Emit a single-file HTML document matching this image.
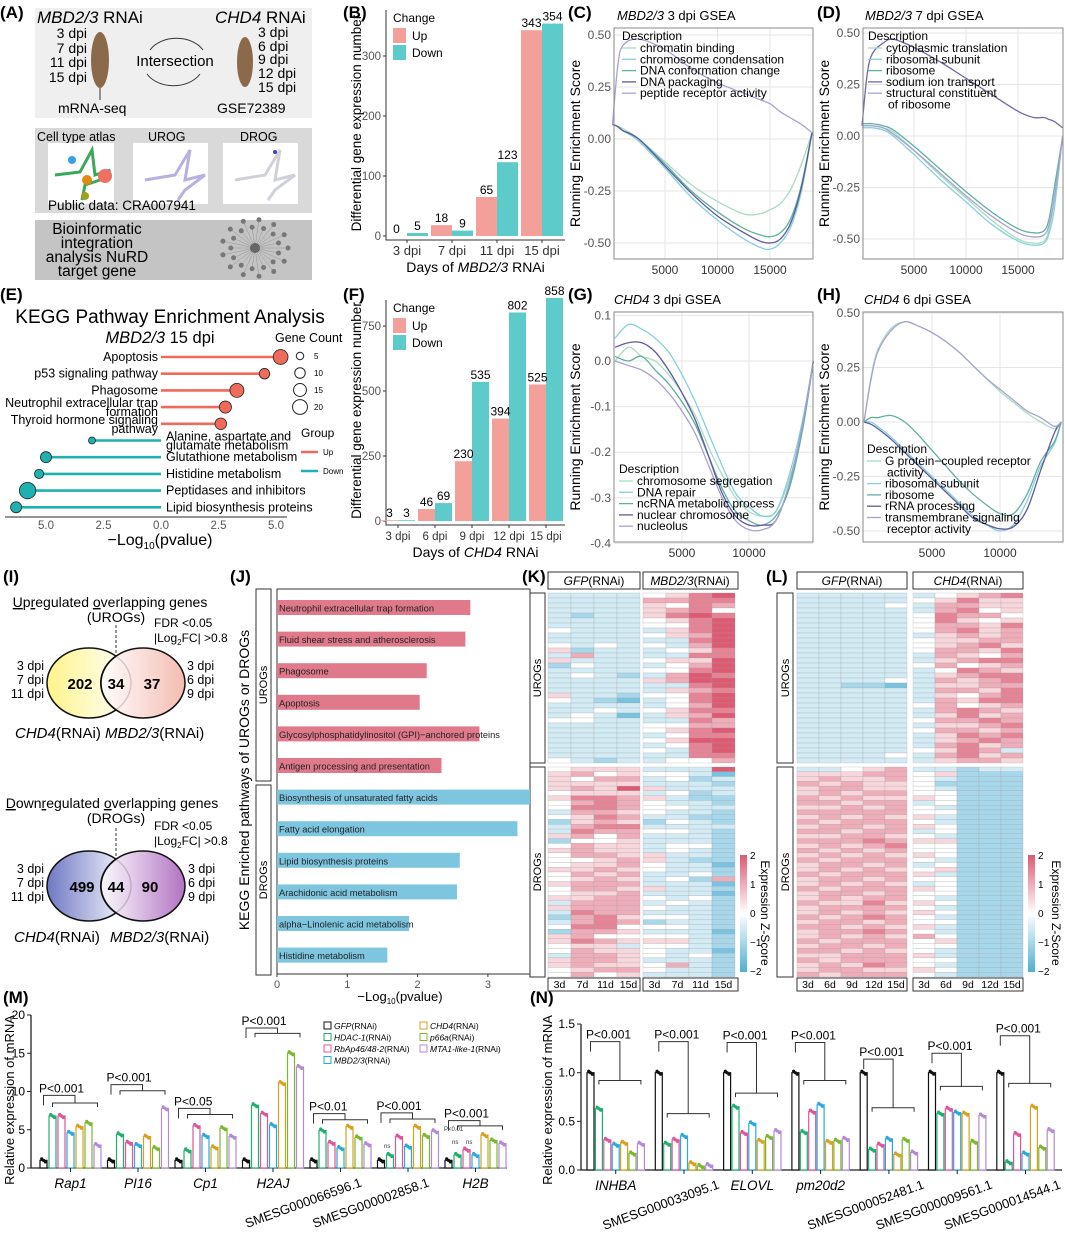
<!DOCTYPE html>
<html><head><meta charset="utf-8"><style>
html,body{margin:0;padding:0;background:#fff}
svg{display:block;font-family:"Liberation Sans",Arial,sans-serif}
</style></head><body>
<svg id="fig" width="1065" height="1238" viewBox="0 0 1065 1238" xmlns="http://www.w3.org/2000/svg">
<defs>
<linearGradient id="zgrad" x1="0" y1="0" x2="0" y2="1"><stop offset="0" stop-color="#DD5A72"/><stop offset="0.5" stop-color="#ffffff"/><stop offset="1" stop-color="#4DAFD6"/></linearGradient>
<linearGradient id="vY" x1="0" y1="0" x2="1" y2="0"><stop offset="0" stop-color="#fff38a"/><stop offset="1" stop-color="#ffffff"/></linearGradient>
<linearGradient id="vR" x1="0" y1="0" x2="1" y2="0"><stop offset="0" stop-color="#ffffff"/><stop offset="1" stop-color="#f2b0a4"/></linearGradient>
<linearGradient id="vB" x1="0" y1="0" x2="1" y2="0"><stop offset="0" stop-color="#6f78c4"/><stop offset="1" stop-color="#ffffff"/></linearGradient>
<linearGradient id="vP" x1="0" y1="0" x2="1" y2="0"><stop offset="0" stop-color="#ffffff"/><stop offset="1" stop-color="#a45ab8"/></linearGradient>
</defs>

<!-- Panel A -->
<g>
<text x="0" y="18" font-size="17" font-weight="bold">(A)</text>
<rect x="35" y="8" width="277" height="110" fill="#efefef"/>
<text x="37" y="23" font-size="17"><tspan font-style="italic">MBD2/3</tspan> RNAi</text>
<text x="215" y="23" font-size="17"><tspan font-style="italic">CHD4</tspan> RNAi</text>
<g font-size="14" text-anchor="end">
<text x="87" y="38">3 dpi</text><text x="87" y="53">7 dpi</text><text x="87" y="67">11 dpi</text><text x="87" y="82">15 dpi</text></g>
<ellipse cx="100" cy="60" rx="9" ry="28" fill="#8a6a4a"/>
<line x1="100" y1="88" x2="100" y2="100" stroke="#333"/>
<text x="58" y="113" font-size="14">mRNA-seq</text>
<text x="175" y="66" font-size="15" text-anchor="middle">Intersection</text>
<path d="M150,50 A30,22 0 0 1 203,50" fill="none" stroke="#333"/>
<path d="M200,74 A30,22 0 0 1 147,74" fill="none" stroke="#333"/>
<ellipse cx="245" cy="62" rx="8" ry="25" fill="#8a6a4a"/>
<g font-size="14">
<text x="258" y="37">3 dpi</text><text x="258" y="51">6 dpi</text><text x="258" y="64">9 dpi</text><text x="258" y="78">12 dpi</text><text x="258" y="92">15 dpi</text></g>
<text x="217" y="113" font-size="14">GSE72389</text>
<rect x="35" y="128" width="277" height="85" fill="#d9d9d9"/>
<text x="37" y="141" font-size="12.5">Cell type atlas</text>
<text x="148" y="141" font-size="12.5">UROG</text>
<text x="240" y="141" font-size="12.5">DROG</text>
<rect x="48" y="143" width="66" height="61" fill="#fff"/>
<rect x="133" y="143" width="75" height="61" fill="#fff"/>
<rect x="223" y="143" width="75" height="61" fill="#fff"/>
<g>
<path d="M55,175 L80,172 L92,150 L95,175 L110,170 L100,180 L85,185 L82,200" stroke="#3aa85a" stroke-width="3" fill="none"/>
<circle cx="87" cy="180" r="5" fill="#e08a10"/><circle cx="105" cy="176" r="7" fill="#f07060"/><circle cx="72" cy="160" r="4" fill="#3aa0e0"/><circle cx="85" cy="196" r="4" fill="#a0a020"/>
<path d="M145,180 L175,175 L190,150 L185,180 L205,175 L185,190 L178,200" stroke="#b8b0e0" stroke-width="3" fill="none"/>
<path d="M235,180 L265,175 L280,150 L275,180 L295,175 L275,190 L268,200" stroke="#d0d0d8" stroke-width="3" fill="none"/>
<circle cx="275" cy="152" r="2" fill="#4040c0"/></g>
<text x="48" y="210" font-size="13.5">Public data: CRA007941</text>
<rect x="35" y="220" width="277" height="60" fill="#c4c4c4"/>
<g font-size="15.5" text-anchor="middle">
<text x="97" y="234">Bioinformatic</text><text x="97" y="248">integration</text><text x="97" y="262">analysis NuRD</text><text x="97" y="276">target gene</text></g>
<g id="netg"></g>
</g>

<text x="343" y="18" font-size="17" font-weight="bold">(B)</text>
<text x="568" y="18" font-size="17" font-weight="bold">(C)</text>
<text x="817" y="18" font-size="17" font-weight="bold">(D)</text>
<text x="0" y="300" font-size="17" font-weight="bold">(E)</text>
<text x="343" y="300" font-size="17" font-weight="bold">(F)</text>
<text x="568" y="300" font-size="17" font-weight="bold">(G)</text>
<text x="817" y="300" font-size="17" font-weight="bold">(H)</text>
<text x="3" y="582" font-size="17" font-weight="bold">(I)</text>
<text x="230" y="582" font-size="17" font-weight="bold">(J)</text>
<text x="522" y="582" font-size="17" font-weight="bold">(K)</text>
<text x="766" y="582" font-size="17" font-weight="bold">(L)</text>
<text x="3" y="1003" font-size="17" font-weight="bold">(M)</text>
<text x="530" y="1003" font-size="17" font-weight="bold">(N)</text>

<!-- Panel titles for GSEA -->
<text x="617" y="20" font-size="13"><tspan font-style="italic">MBD2/3</tspan> 3 dpi GSEA</text>
<text x="865" y="20" font-size="13"><tspan font-style="italic">MBD2/3</tspan> 7 dpi GSEA</text>
<text x="614" y="304" font-size="13"><tspan font-style="italic">CHD4</tspan> 3 dpi GSEA</text>
<text x="864" y="304" font-size="13"><tspan font-style="italic">CHD4</tspan> 6 dpi GSEA</text>

<!-- Panel E titles -->
<text x="170" y="323" font-size="19" text-anchor="middle">KEGG Pathway Enrichment Analysis</text>
<text x="160" y="343" font-size="16.5" text-anchor="middle"><tspan font-style="italic">MBD2/3</tspan> 15 dpi</text>

<!-- Panel I Venn -->
<g>
<text x="110" y="607" font-size="14" text-anchor="middle"><tspan text-decoration="underline">U</tspan>p<tspan text-decoration="underline">r</tspan>egulated <tspan text-decoration="underline">o</tspan>verlapping <tspan text-decoration="underline">g</tspan>enes</text>
<text x="116" y="622" font-size="14" text-anchor="middle">(UROGs)</text>
<text x="154" y="627" font-size="12">FDR &lt;0.05</text>
<text x="154" y="642" font-size="12">|Log<tspan font-size="8" dy="3">2</tspan><tspan dy="-3">FC| &gt;0.8</tspan></text>
<line x1="116" y1="625" x2="116" y2="662" stroke="#333" stroke-dasharray="3,2"/>
<ellipse cx="89" cy="683" rx="42" ry="35" fill="url(#vY)" stroke="#111" stroke-width="1.5"/>
<ellipse cx="143" cy="683" rx="42" ry="35" fill="url(#vR)" fill-opacity="0.85" stroke="#111" stroke-width="1.5"/>
<path d="M116,656 A42,35 0 0 0 116,710" fill="none" stroke="#111" stroke-width="1.5"/>
<g font-size="15" font-weight="bold" text-anchor="middle"><text x="80" y="689">202</text><text x="116" y="689">34</text><text x="152" y="689">37</text></g>
<g font-size="12.5" text-anchor="end"><text x="44" y="670">3 dpi</text><text x="44" y="684">7 dpi</text><text x="44" y="698">11 dpi</text></g>
<g font-size="12.5"><text x="187" y="670">3 dpi</text><text x="187" y="684">6 dpi</text><text x="187" y="698">9 dpi</text></g>
<text x="15" y="738" font-size="15"><tspan font-style="italic">CHD4</tspan>(RNAi) <tspan font-style="italic">MBD2/3</tspan>(RNAi)</text>
<text x="112" y="808" font-size="14" text-anchor="middle"><tspan text-decoration="underline">D</tspan>own<tspan text-decoration="underline">r</tspan>egulated <tspan text-decoration="underline">o</tspan>verlapping <tspan text-decoration="underline">g</tspan>enes</text>
<text x="116" y="823" font-size="14" text-anchor="middle">(DROGs)</text>
<text x="154" y="830" font-size="12">FDR &lt;0.05</text>
<text x="154" y="845" font-size="12">|Log<tspan font-size="8" dy="3">2</tspan><tspan dy="-3">FC| &gt;0.8</tspan></text>
<line x1="116" y1="828" x2="116" y2="866" stroke="#333" stroke-dasharray="3,2"/>
<ellipse cx="89" cy="886" rx="42" ry="35" fill="url(#vB)" stroke="#111" stroke-width="1.5"/>
<ellipse cx="143" cy="886" rx="42" ry="35" fill="url(#vP)" fill-opacity="0.85" stroke="#111" stroke-width="1.5"/>
<path d="M116,859 A42,35 0 0 0 116,913" fill="none" stroke="#111" stroke-width="1.5"/>
<g font-size="15" font-weight="bold" text-anchor="middle"><text x="82" y="892">499</text><text x="116" y="892">44</text><text x="150" y="892">90</text></g>
<g font-size="12.5" text-anchor="end"><text x="44" y="873">3 dpi</text><text x="44" y="887">7 dpi</text><text x="44" y="901">11 dpi</text></g>
<g font-size="12.5"><text x="188" y="873">3 dpi</text><text x="188" y="887">6 dpi</text><text x="188" y="901">9 dpi</text></g>
<text x="14" y="942" font-size="15"><tspan font-style="italic">CHD4</tspan>(RNAi) <tspan dx="6" font-style="italic">MBD2/3</tspan>(RNAi)</text>
</g>

<!-- Panel J frame -->
<g>
<text transform="translate(249,780) rotate(-90)" font-size="14" text-anchor="middle">KEGG Enriched pathways of UROGs or DROGs</text>
<rect x="256" y="589" width="15" height="192" fill="none" stroke="#333"/>
<rect x="256" y="785" width="15" height="190" fill="none" stroke="#333"/>
<text transform="translate(267,685) rotate(-90)" font-size="11" text-anchor="middle">UROGs</text>
<text transform="translate(267,880) rotate(-90)" font-size="11" text-anchor="middle">DROGs</text>
<rect x="277" y="589" width="253" height="385" fill="none" stroke="#333"/>
<text x="400" y="1001" font-size="13" text-anchor="middle">−Log<tspan font-size="8" dy="3">10</tspan><tspan dy="-3">(pvalue)</tspan></text>
</g>

<!-- Heatmap frames -->
<g>
<rect x="548" y="572" width="92" height="17" fill="none" stroke="#333"/><text x="594" y="585" font-size="12" text-anchor="middle"><tspan font-style="italic">GFP</tspan>(RNAi)</text>
<rect x="643" y="572" width="95" height="17" fill="none" stroke="#333"/><text x="690" y="585" font-size="12" text-anchor="middle"><tspan font-style="italic">MBD2/3</tspan>(RNAi)</text>
<rect x="530" y="593" width="15" height="170" fill="none" stroke="#333"/><text transform="translate(541,678) rotate(-90)" font-size="11" text-anchor="middle">UROGs</text>
<rect x="530" y="767" width="15" height="210" fill="none" stroke="#333"/><text transform="translate(541,872) rotate(-90)" font-size="11" text-anchor="middle">DROGs</text>
<rect x="548" y="978" width="92" height="13" fill="none" stroke="#333"/><rect x="643" y="978" width="95" height="13" fill="none" stroke="#333"/>
<rect x="740" y="855" width="7" height="117" fill="url(#zgrad)"/>
<g font-size="10"><text x="750" y="859">2</text><text x="750" y="888">1</text><text x="750" y="917">0</text><text x="750" y="946">−1</text><text x="750" y="975">−2</text></g>
<text transform="translate(761,913) rotate(90)" font-size="12" text-anchor="middle">Expression Z-Score</text>
</g>
<g>
<rect x="797" y="572" width="110" height="17" fill="none" stroke="#333"/><text x="852" y="585" font-size="12" text-anchor="middle"><tspan font-style="italic">GFP</tspan>(RNAi)</text>
<rect x="913" y="572" width="110" height="17" fill="none" stroke="#333"/><text x="968" y="585" font-size="12" text-anchor="middle"><tspan font-style="italic">CHD4</tspan>(RNAi)</text>
<rect x="777" y="593" width="16" height="170" fill="none" stroke="#333"/><text transform="translate(789,678) rotate(-90)" font-size="11" text-anchor="middle">UROGs</text>
<rect x="777" y="767" width="16" height="210" fill="none" stroke="#333"/><text transform="translate(789,872) rotate(-90)" font-size="11" text-anchor="middle">DROGs</text>
<rect x="797" y="978" width="110" height="13" fill="none" stroke="#333"/><rect x="913" y="978" width="110" height="13" fill="none" stroke="#333"/>
<rect x="1028" y="855" width="7" height="117" fill="url(#zgrad)"/>
<g font-size="10"><text x="1038" y="859">2</text><text x="1038" y="888">1</text><text x="1038" y="917">0</text><text x="1038" y="946">−1</text><text x="1038" y="975">−2</text></g>
<text transform="translate(1052,913) rotate(90)" font-size="12" text-anchor="middle">Expression Z-Score</text>
</g>

<!-- M / N static text -->
<text transform="translate(14,1100) rotate(-90)" font-size="13" text-anchor="middle">Relative expression of  mRNA</text>
<text transform="translate(552,1100) rotate(-90)" font-size="13" text-anchor="middle">Relative expression of  mRNA</text>
<g font-size="6" fill="#333"><text x="384" y="1148">ns</text><text x="452" y="1144">ns</text><text x="466" y="1144">ns</text><text x="444" y="1131">P&lt;0.01</text></g>
</svg>
<script>
const NS='http://www.w3.org/2000/svg';
const svg=document.getElementById('fig');
function mk(tag,a,p){const e=document.createElementNS(NS,tag);for(const k in a)e.setAttribute(k,a[k]);(p||svg).appendChild(e);return e;}
function tx(x,y,s,a,p){const e=mk('text',Object.assign({x:x,y:y},a||{}),p);e.textContent=s;return e;}
function smooth(pts){let d='M'+pts[0][0]+','+pts[0][1];for(let i=0;i<pts.length-1;i++){const p0=pts[i-1]||pts[i],p1=pts[i],p2=pts[i+1],p3=pts[i+2]||p2;const c1=[p1[0]+(p2[0]-p0[0])/6,p1[1]+(p2[1]-p0[1])/6],c2=[p2[0]-(p3[0]-p1[0])/6,p2[1]-(p3[1]-p1[1])/6];d+='C'+c1+' '+c2+' '+p2;}return d;}

/* ---------- DATA ---------- */
const bCats=['3 dpi','7 dpi','11 dpi','15 dpi'];
const bUp=[0,18,65,343];
const bDown=[5,9,123,354];
const fCats=['3 dpi','6 dpi','9 dpi','12 dpi','15 dpi'];
const fUp=[3,46,230,394,525];
const fDown=[3,69,535,802,858];

const eTerms=['Apoptosis','p53 signaling pathway','Phagosome','Neutrophil extracellular trap|formation','Thyroid hormone signaling|pathway','Alanine, aspartate and|glutamate metabolism','Glutathione metabolism','Histidine metabolism','Peptidases and inhibitors','Lipid biosynthesis proteins'];
const eVals=[5.2,4.5,3.3,2.8,2.6,-3.0,-5.0,-5.3,-5.8,-6.3];
const eCounts=[18,9,16,12,11,4,10,7,22,10];

const jTerms=['Neutrophil extracellular trap formation','Fluid shear stress and atherosclerosis','Phagosome','Apoptosis','Glycosylphosphatidylinositol (GPI)−anchored proteins','Antigen processing and presentation','Biosynthesis of unsaturated fatty acids','Fatty acid elongation','Lipid biosynthesis proteins','Arachidonic acid metabolism','alpha−Linolenic acid metabolism','Histidine metabolism'];
const jVals=[2.75,2.68,2.13,2.03,2.88,2.34,3.6,3.42,2.6,2.56,1.88,1.57];
const jGroup=['U','U','U','U','U','U','D','D','D','D','D','D'];

const cX=[0,500,1000,2500,5000,7500,10000,12500,14000,15000,16000,17000,18000,19000];
const cS1=[0.07,0.06,0.05,0.0,-0.11,-0.22,-0.30,-0.36,-0.36,-0.34,-0.31,-0.24,-0.12,0.03];
const cS2=[0.07,0.06,0.04,-0.01,-0.14,-0.28,-0.39,-0.48,-0.52,-0.53,-0.50,-0.42,-0.25,0.03];
const cS3=[0.07,0.06,0.04,0.0,-0.12,-0.25,-0.35,-0.43,-0.46,-0.47,-0.45,-0.38,-0.22,0.03];
const cS4=[0.07,0.06,0.04,0.0,-0.13,-0.26,-0.37,-0.45,-0.49,-0.50,-0.48,-0.40,-0.23,0.03];
const cS5=[0.07,0.35,0.45,0.48,0.43,0.34,0.27,0.22,0.19,0.17,0.13,0.10,0.07,0.03];
const cNames=['chromatin binding','chromosome condensation','DNA conformation change','DNA packaging','peptide receptor activity'];

const dX=[0,500,1000,2000,3000,5000,7500,10000,12500,15000,16500,17500,18000,18500,19300];
const dS1=[0.05,0.05,0.05,0.04,0.02,-0.07,-0.19,-0.30,-0.41,-0.50,-0.52,-0.51,-0.45,-0.30,0];
const dS2=[0.04,0.04,0.04,0.03,0.0,-0.09,-0.21,-0.32,-0.43,-0.51,-0.53,-0.52,-0.47,-0.35,0];
const dS3=[0.06,0.06,0.06,0.05,0.03,-0.05,-0.16,-0.27,-0.37,-0.45,-0.47,-0.46,-0.40,-0.25,0];
const dS4=[0.05,0.30,0.40,0.45,0.47,0.43,0.36,0.28,0.20,0.12,0.09,0.09,0.08,0.07,0.04];
const dS5=[0.05,0.05,0.05,0.04,0.01,-0.07,-0.18,-0.29,-0.39,-0.47,-0.49,-0.48,-0.43,-0.30,0];
const dNames=['cytoplasmic translation','ribosomal subunit','ribosome','sodium ion transport','structural constituent|of ribosome'];

const gX=[0,1000,2000,3000,4000,5000,6000,7000,8000,9000,10000,11000,12000,13000,14000,14800];
const gS1=[0.0,0.03,0.01,0.0,-0.03,-0.07,-0.12,-0.19,-0.25,-0.30,-0.33,-0.34,-0.33,-0.26,-0.15,0];
const gS2=[0.05,0.08,0.07,0.05,0.02,-0.03,-0.09,-0.16,-0.23,-0.29,-0.32,-0.34,-0.33,-0.25,-0.13,0];
const gS3=[0.01,0.0,0.01,-0.02,-0.05,-0.09,-0.14,-0.21,-0.28,-0.33,-0.35,-0.36,-0.34,-0.28,-0.15,0];
const gS4=[0.03,0.04,0.04,0.02,-0.02,-0.07,-0.13,-0.21,-0.29,-0.34,-0.36,-0.36,-0.35,-0.27,-0.14,0];
const gS5=[0.0,-0.01,-0.02,-0.04,-0.07,-0.11,-0.16,-0.23,-0.30,-0.35,-0.37,-0.37,-0.35,-0.27,-0.14,0];
const gNames=['chromosome segregation','DNA repair','ncRNA metabolic process','nuclear chromosome','nucleolus'];

const hX=[0,500,1000,2000,3000,4000,5000,6000,7000,8000,9000,10000,11000,12000,13000,14000,14500];
const hS1=[0,0.2,0.33,0.43,0.46,0.44,0.41,0.37,0.32,0.26,0.2,0.14,0.09,0.04,0.0,-0.03,0];
const hS2=[0,0.0,-0.02,-0.07,-0.13,-0.19,-0.25,-0.31,-0.37,-0.43,-0.47,-0.50,-0.47,-0.36,-0.2,-0.1,0];
const hS3=[0,0.02,0.02,0.03,0.0,-0.06,-0.13,-0.2,-0.27,-0.33,-0.38,-0.42,-0.42,-0.33,-0.18,-0.09,0];
const hS4=[0,-0.01,-0.03,-0.08,-0.14,-0.2,-0.26,-0.32,-0.38,-0.44,-0.47,-0.49,-0.48,-0.4,-0.22,-0.05,0];
const hS5=[0,0.19,0.32,0.42,0.46,0.44,0.41,0.37,0.32,0.26,0.2,0.15,0.1,0.05,0.02,-0.02,0];
const hNames=['G protein−coupled receptor|activity','ribosomal subunit','ribosome','rRNA processing','transmembrane signaling|receptor activity'];

const kUp=["33334578","33336677","33335476","33335674","32335787","33334578","33334478","43333578","33334568","33333378","43434368","52333457","36333377","53334558","24333468","33334478","34323687","33335688","33333378","33333567","53324478","43213478","33333468","33434577","34313568","44333376","33334466","33334578","33333477","33334588","33333478","33334378","33333377","43233446"];
const kDown=["45553338","56454431","54663423","55553332","56585333","45553423","57765322","46764332","47764433","36654332","45763322","25652432","36773333","37664432","56463332","24453332","46553442","56553432","46655332","44565322","45564331","55654332","46563342","45653426","56663331","46655332","45563331","55664342","36663432","56664332","37663332","26754432","36762332","47744432","26653331","56444432","57655532","45534432","46554331","36654342","56653332","56554632","45664332","46453332"];
const lUp=["3333334567","3333345755","3333436655","3333336745","3333347664","3333347545","3333346657","3333346756","3333335656","3333345566","3333345675","3333346657","3333336546","3333335677","3333346456","3333334765","3333335677","3333436567","3322135566","3333336657","3333335467","3333336577","3333346456","3333336765","3333335756","3333346676","3333335567","3333346656","3333335767","3333335676","3333336756","3333345763","3333436756","3333335665"];
const lDown=["3345633233","5556645222","5655643222","6565542222","5665543222","5656644222","6565554222","6656634222","5565643222","6666644222","5656553222","6566643222","5665654222","6656634222","5566543222","6667655222","5656744222","6565644222","5656554222","6566643222","5665634222","5656545222","6566653222","5665644222","5656534222","6566654222","5665644222","5656643222","6557554222","5666643222","5656554222","6567643222","5665644222","6656553222","5667643222","5656564222","6566645222","5665644222","6656543222","5566653222","6566644222","5657643222","5665554222","6566643222"];
const kCols=['3d','7d','11d','15d'];
const lCols=['3d','6d','9d','12d','15d'];

const mGenes=['Rap1','PI16','Cp1','H2AJ','SMESG000066596.1','SMESG000002858.1','H2B'];
const mVals=[[1,6.8,6.8,4.6,5.4,5.9,3.0],[1,4.4,3.3,3.0,4.1,2.6,7.8],[1,2.3,5.5,4.2,2.7,5.2,4.1],[1,8.2,7.1,5.6,11.1,15.0,13.2],[1,4.9,3.3,2.6,5.4,4.0,3.1],[1,1.7,4.1,2.8,5.4,4.2,4.8],[1,1.7,2.4,1.7,4.3,3.6,3.2]];
const mPTxt=['P<0.001','P<0.001','P<0.05','P<0.001','P<0.01','P<0.001','P<0.001'];
const mPTop=[9.5,10.9,7.8,18.3,7.1,7.2,6.2];
const mPLow=[8.5,10.1,7.0,17.6,6.3,6.4,5.5];
const mTicks=[0,5,10,15,20];
const nGenes=['INHBA','SMESG000033095.1','ELOVL','pm20d2','SMESG000052481.1','SMESG000009561.1','SMESG000014544.1'];
const nVals=[[1,0.63,0.31,0.26,0.28,0.17,0.27],[1,0.27,0.31,0.35,0.07,0.04,0.05],[1,0.65,0.38,0.48,0.30,0.34,0.40],[1,0.39,0.60,0.67,0.29,0.30,0.32],[1,0.21,0.26,0.32,0.16,0.31,0.18],[1,0.58,0.63,0.59,0.58,0.29,0.56],[1,0.08,0.37,0.17,0.65,0.23,0.41]];
const nPTxt=['P<0.001','P<0.001','P<0.001','P<0.001','P<0.001','P<0.001','P<0.001'];
const nPTop=[1.32,1.32,1.31,1.31,1.14,1.2,1.38];
const nPLow=[0.92,0.58,0.79,0.92,0.64,0.86,0.89];
const nTicks=[0,0.5,1.0,1.5];
const treatNames=['GFP','HDAC-1','RbAp46/48-2','MBD2/3','CHD4','p66a','MTA1-like-1'];

/* ---------- network in panel A ---------- */
(function(){const g=document.getElementById('netg');
for(let i=0;i<26;i++){const a=i/26*Math.PI*2,r=i%2?22:30;const cx=255+Math.cos(a)*r*1.1,cy=248+Math.sin(a)*r*0.95;
const l=mk('line',{x1:255,y1:248,x2:cx,y2:cy,stroke:'#888','stroke-width':0.4},g);


const c=mk('circle',{cx:cx,cy:cy,r:2.5,fill:'#777'},g);

}
const hub=mk('circle',{cx:255,cy:248,r:5,fill:'#666'},g);

})();

/* ---------- B & F bar charts ---------- */
const UPC='#F4A09A',DNC='#5ECBCB';
function barChart(cats,up,down,o){
 const y=v=>o.base-v*o.scale;
 const ax=mk('path',{d:`M${o.ax},${o.top} V${o.base+4} H${o.right}`,fill:'none',stroke:'#333'});
 
 
 o.ticks.forEach(t=>{const l=mk('line',{x1:o.ax-3,x2:o.ax,y1:y(t),y2:y(t),stroke:'#333'});
  
  
  const s=tx(o.ax-5,y(t)+4,String(t),{'font-size':11.5,'text-anchor':'end',fill:'#555'});
  
  });
 cats.forEach((c,i)=>{const cx=o.x0+i*o.step;
  const r1=mk('rect',{x:cx-o.w,y:y(up[i]),width:o.w,height:o.base-y(up[i]),fill:UPC});
  
  
  const r2=mk('rect',{x:cx,y:y(down[i]),width:o.w,height:o.base-y(down[i]),fill:DNC});
  
  
  const v1=tx(cx-o.w/2,y(up[i])-3,String(up[i]),{'font-size':12,'text-anchor':'middle'});
  
  
  const v2=tx(cx+o.w/2,y(down[i])-3,String(down[i]),{'font-size':12,'text-anchor':'middle'});
  
  
  const tl=mk('line',{x1:cx,x2:cx,y1:o.base+4,y2:o.base+7,stroke:'#333'});
  
  
  const xl=tx(cx,o.base+19,c,{'font-size':o.fs,'text-anchor':'middle',fill:'#333'});
  
  });
 const t=mk('text',{x:(o.ax+o.right)/2,y:o.base+36,'font-size':14,'text-anchor':'middle'});
 t.innerHTML='Days of <tspan font-style="italic">'+o.gene+'</tspan> RNAi';
 
 
 const yt=tx(0,0,'Differential gene expression number',{'font-size':13.5,'text-anchor':'middle',transform:`translate(${o.ax-25},${(o.top+o.base)/2}) rotate(-90)`});
 
 
 const lg=tx(o.ax+7,o.top+12,'Change',{'font-size':12});
 
 
 [['Up',UPC],['Down',DNC]].forEach((p,i)=>{const r=mk('rect',{x:o.ax+7,y:o.top+18+i*17,width:13,height:15,fill:p[1]});
  
  
  const s=tx(o.ax+26,o.top+30+i*17,p[0],{'font-size':12});
  
  });
}
barChart(bCats,bUp,bDown,{id:'b',ax:386,right:565,top:10,base:236,scale:0.6,ticks:[0,100,200,300],x0:407,step:45,w:21,gene:'MBD2/3',fs:13});
barChart(fCats,fUp,fDown,{id:'f',ax:386,right:565,top:300,base:521,scale:0.26,ticks:[0,250,500,750],x0:398,step:37,w:17,gene:'CHD4',fs:11.5});

/* ---------- GSEA ---------- */
const GC=['#A8DCC0','#86CFE0','#5FB0A0','#5D5A9A','#A8A2D0'];
function gsea(o){
 const X=v=>o.x0+v*o.xs,Y=v=>o.y0-v*o.ys;
 const bg=mk('rect',{x:o.l,y:o.t,width:o.r-o.l,height:o.b-o.t,fill:'#fff'});
 
 
 o.yt.forEach(t=>{const l=mk('line',{x1:o.l,x2:o.r,y1:Y(t),y2:Y(t),stroke:'#e6e6e6'});
  
  
  const s=tx(o.l-3,Y(t)+4,o.yl(t),{'font-size':12,'text-anchor':'end',fill:'#555'});
  
  });
 o.xt.forEach(t=>{const l=mk('line',{x1:X(t),x2:X(t),y1:o.t,y2:o.b,stroke:'#e6e6e6'});
  
  
  const s=tx(X(t),o.b+15,String(t),{'font-size':12,'text-anchor':'middle',fill:'#333'});
  
  });
 o.series.forEach((s,i)=>{const p=mk('path',{d:smooth(s.map((v,j)=>[X(o.xsv[j]),Y(v)])),fill:'none',stroke:o.colors[i],'stroke-width':1.3});
  
  });
 const fr=mk('rect',{x:o.l,y:o.t,width:o.r-o.l,height:o.b-o.t,fill:'none',stroke:'#888'});
 
 
 const yt=tx(0,0,'Running Enrichment Score',{'font-size':14,'text-anchor':'middle',transform:`translate(${o.l-34},${(o.t+o.b)/2}) rotate(-90)`});
 
 
 const lt=tx(o.lx,o.ly,'Description',{'font-size':12});
 
 
 let yy=o.ly+12;
 o.names.forEach((n,i)=>{const ln=mk('line',{x1:o.lx,x2:o.lx+14,y1:yy-4,y2:yy-4,stroke:o.colors[i],'stroke-width':1.3});
  
  
  n.split('|').forEach((part,k)=>{const s=tx(o.lx+18+(k?2:0),yy,part,{'font-size':12});
   
   
   yy+=k||n.indexOf('|')<0?11.3:11.3;});});
}
const f2=t=>t.toFixed(2),f1=t=>t.toFixed(1);
gsea({id:'c',l:614,r:813,t:28,b:259,x0:612.5,xs:0.0105,y0:139,ys:208,yt:[-0.5,-0.25,0,0.25,0.5],yl:f2,xt:[5000,10000,15000],xsv:cX,series:[cS1,cS2,cS3,cS4,cS5],colors:GC,names:cNames,lx:622,ly:40});
gsea({id:'d',l:863,r:1063,t:28,b:259,x0:862,xs:0.0104,y0:136,ys:206,yt:[-0.5,-0.25,0,0.25,0.5],yl:f2,xt:[5000,10000,15000],xsv:dX,series:[dS1,dS2,dS3,dS4,dS5],colors:[GC[0],GC[1],GC[2],'#6E6AA8',GC[4]],names:dNames,lx:868,ly:40});
gsea({id:'g',l:614,r:813,t:312,b:542,x0:615,xs:0.0134,y0:361,ys:456,yt:[-0.4,-0.3,-0.2,-0.1,0,0.1],yl:f1,xt:[5000,10000],xsv:gX,series:[gS1,gS2,gS3,gS4,gS5],colors:GC,names:gNames,lx:619,ly:473});
gsea({id:'h',l:863,r:1063,t:312,b:542,x0:864,xs:0.0136,y0:422,ys:218,yt:[-0.5,-0.25,0,0.25,0.5],yl:f2,xt:[5000,10000],xsv:hX,series:[hS1,hS2,hS3,hS4,hS5],colors:GC,names:hNames,lx:867,ly:453});

/* ---------- E lollipop ---------- */
(function(){
 const X=v=>161+v*23,rowY=i=>357+i*16.7;
 eVals.forEach((v,i)=>{const up=v>0,col=up?'#EE6A5A':'#1FB0B0',y=rowY(i);
  const l=mk('line',{x1:161,x2:X(v),y1:y,y2:y,stroke:col,'stroke-width':2.6});
  
  
  const c=mk('circle',{cx:X(v),cy:y,r:Math.sqrt(eCounts[i])*1.75,fill:col,stroke:'#222','stroke-width':0.8});
  
  
  const parts=eTerms[i].split('|');
  parts.forEach((p,k)=>{const s=tx(up?158:166,y+4+(parts.length>1?(k*9-4):0),p,{'font-size':12.5,'text-anchor':up?'end':'start'});
   
   });});
 const ax=mk('line',{x1:5,x2:287,y1:517,y2:517,stroke:'#555','stroke-width':1.2});
 
 
 [-5,-2.5,0,2.5,5].forEach(t=>{const s=tx(X(t),529,Math.abs(t).toFixed(1),{'font-size':11.5,'text-anchor':'middle',fill:'#555'});
  
  });
 const tt=mk('text',{x:160,y:545,'font-size':16,'text-anchor':'middle'});
 tt.innerHTML='−Log<tspan font-size="10" dy="4">10</tspan><tspan dy="-4">(pvalue)</tspan>';
 
 
 const gt=tx(275,342,'Gene Count',{'font-size':12.5});
 
 
 [5,10,15,20].forEach((n,i)=>{const c=mk('circle',{cx:300,cy:356+i*17,r:Math.sqrt(n)*1.75*0.95,fill:'none',stroke:'#222'});
  
  
  const s=tx(314,359+i*17,String(n),{'font-size':8});
  
  });
 const gg=tx(301,437,'Group',{'font-size':12});
 
 
 [['Up','#EE6A5A'],['Down','#1FB0B0']].forEach((p,i)=>{const l=mk('line',{x1:301,x2:318,y1:452+i*19,y2:452+i*19,stroke:p[1],'stroke-width':2.5});
  
  
  const s=tx(323,455+i*19,p[0],{'font-size':8});
  
  });
})();

/* ---------- J bars ---------- */
(function(){
 const X=v=>277+v*70.3;
 jVals.forEach((v,i)=>{const y=608+i*31.6;const w=Math.min(X(v),530)-277;
  const r=mk('rect',{x:277,y:y-8,width:w,height:15,fill:jGroup[i]==='U'?'#E07A8A':'#7EC6E0'});
  
  
  const s=tx(279,y+3.5,jTerms[i],{'font-size':9.3,fill:'#222'});
  
  });
 [0,1,2,3].forEach(t=>{const l=mk('line',{x1:X(t),x2:X(t),y1:974,y2:977,stroke:'#333'});
  
  
  const s=tx(X(t),988,String(t),{'font-size':11,'text-anchor':'middle',fill:'#555'});
  
  });
})();

/* ---------- Heatmaps ---------- */
function zcol(d){const z=(d-4)/2;const b=[77,175,214],r=[221,90,114];const t=Math.min(1,Math.abs(z)/2);const c=z<0?b:r;
 return 'rgb('+c.map(v=>Math.round(255+(v-255)*t)).join(',')+')';}
function heat(rows,x0,gap,ncol,cw,y0,rh,split){
 rows.forEach((row,ri)=>{for(let j=0;j<row.length;j++){const x=x0+j*cw+(j>=split?gap:0);
  const r=mk('rect',{x:x,y:y0+ri*rh,width:cw,height:rh,fill:zcol(+row[j]),stroke:'#a0a0a0','stroke-width':0.25});
  
  }});
}
heat(kUp,548,3,8,23,593,170/34,4);
heat(kDown,548,3,8,23,767,210/44,4);
heat(lUp,797,6,10,22,593,170/34,5);
heat(lDown,797,6,10,22,767,210/44,5);
function colLabels(cols,x0,cw,gap){[0,1].forEach(b=>cols.forEach((c,i)=>{const s=tx(x0+b*(cols.length*cw+gap)+i*cw+cw/2,988,c,{'font-size':10.5,'text-anchor':'middle'});
 
 }));}
colLabels(kCols,548,23,3);
colLabels(lCols,797,22,6);

/* ---------- M & N bar groups ---------- */
const TC=['#111111','#1FAF6E','#E0559A','#2AA8E0','#D9A020','#7AB830','#B48AD8'];
function groups(o){
 const Y=v=>o.base-v*o.sc;
 const ax=mk('path',{d:`M${o.ax},${Y(o.ticks[o.ticks.length-1])} V${o.base} H${o.right}`,fill:'none',stroke:'#222','stroke-width':1.3});
 
 
 o.ticks.forEach(t=>{const l=mk('line',{x1:o.ax-4,x2:o.ax,y1:Y(t),y2:Y(t),stroke:'#222'});
  
  
  const s=tx(o.ax-6,Y(t)+4,o.fmt(t),{'font-size':12,'text-anchor':'end'});
  
  });
 o.vals.forEach((g,gi)=>{const gx=o.x0+gi*o.step;
  g.forEach((v,bi)=>{const x=gx+bi*o.pitch;
   const r=mk('rect',{x:x,y:Y(v),width:o.w,height:o.base-Y(v),fill:'#fff',stroke:TC[bi],'stroke-width':1.2});
   
   
   [-1.8,0,1.8].forEach((dx,k)=>{const c=mk('circle',{cx:x+o.w/2+dx,cy:Y(v)+(k-1)*1.5,r:1.6,fill:TC[bi]});
    
    });});
  const b0=gx+o.w/2,b1=gx+o.pitch+o.w/2,b6=gx+6*o.pitch+o.w/2,mid=(b1+b6)/2;
  const br=mk('path',{d:`M${b0},${Y(o.pTop[gi])+10} V${Y(o.pTop[gi])} H${mid} V${Y(o.pLow[gi])} M${b1},${Y(o.pLow[gi])+4} V${Y(o.pLow[gi])} H${b6} V${Y(o.pLow[gi])+4}`,fill:'none',stroke:'#333','stroke-width':1});
  
  
  const pt=tx(gx-1,Y(o.pTop[gi])-3,o.pTxt[gi],{'font-size':12});
  
  
  const tk=mk('line',{x1:gx+3*o.pitch+o.w/2,x2:gx+3*o.pitch+o.w/2,y1:o.base,y2:o.base+4,stroke:'#222'});
  
  
  const name=o.genes[gi];const cx=gx+3*o.pitch+o.w/2;
  const lab=name.indexOf('SMESG')===0?tx(cx+o.rotDx,o.base+18,name,{'font-size':13,'text-anchor':'end',transform:`rotate(-20 ${cx+o.rotDx} ${o.base+18})`}):tx(cx,o.base+20,name,{'font-size':13.5,'text-anchor':'middle','font-style':'italic'});
  
  });
}
groups({id:'m',ax:31,right:507,base:1168,sc:7.65,ticks:mTicks,fmt:t=>String(t),x0:40,step:67.5,pitch:9,w:7,vals:mVals,genes:mGenes,pTop:mPTop,pLow:mPLow,pTxt:mPTxt,rotDx:22});
groups({id:'n',ax:581,right:1062,base:1170,sc:97.3,ticks:nTicks,fmt:t=>t.toFixed(1),x0:587,step:68.3,pitch:8.4,w:7,vals:nVals,genes:nGenes,pTop:nPTop,pLow:nPLow,pTxt:nPTxt,rotDx:36});

/* M legend */
treatNames.forEach((n,i)=>{const col=i<4?0:1,row=i<4?i:i-4;const x=col?420:324,y=1029+row*11.5;
 const r=mk('rect',{x:x,y:y-7,width:7,height:7,fill:'#fff',stroke:TC[i]});
 
 
 const t=mk('text',{x:x+10,y:y,'font-size':8.5});
 t.innerHTML='<tspan font-style="italic">'+n+'</tspan>(RNAi)';
 
 });
</script>
</body></html>
